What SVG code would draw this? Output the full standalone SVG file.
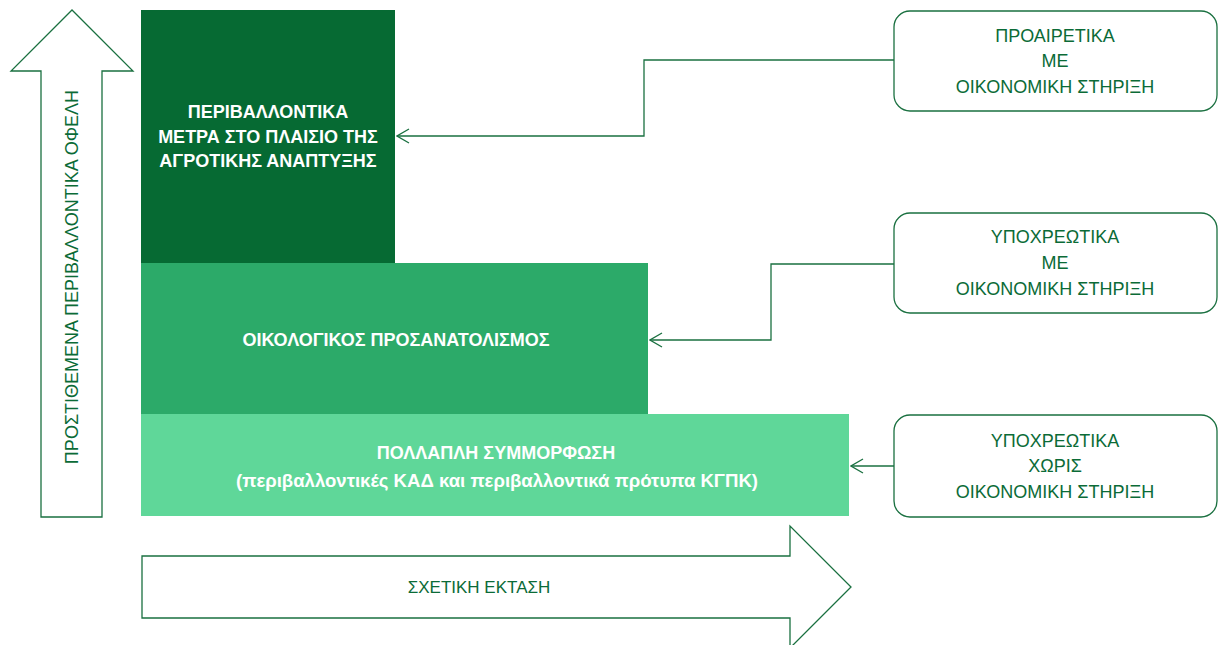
<svg xmlns="http://www.w3.org/2000/svg" width="1219" height="645" viewBox="0 0 1219 645">
<style>
.lbl{font-family:"Liberation Sans",Arial,sans-serif;font-size:18px;fill:#0b6b37;text-anchor:middle}
.sm{font-size:17px}
.wt{font-family:"Liberation Sans",Arial,sans-serif;font-size:18px;font-weight:bold;fill:#ffffff;text-anchor:middle}
.box{fill:#ffffff;stroke:#1a7040;stroke-width:1.3}
.outl{fill:#ffffff;stroke:#1a7040;stroke-width:1.3;stroke-linejoin:miter}
.con{fill:none;stroke:#1a7040;stroke-width:1.3}
</style>
<defs>
<marker id="ah" viewBox="0 0 14 16" refX="13" refY="8" markerWidth="14" markerHeight="16" markerUnits="userSpaceOnUse" orient="auto">
<path d="M1,1 L13,8 L1,15" fill="none" stroke="#1a7040" stroke-width="1.3"/>
</marker>
</defs>
<rect width="1219" height="645" fill="#ffffff"/>

<g id="axis-up">
<path class="outl" d="M41,517 L41,71 L11,71 L72,10 L133,71 L102,71 L102,517 Z"/>
<text class="lbl" transform="translate(78,277) rotate(-90)">ΠΡΟΣΤΙΘΕΜΕΝΑ ΠΕΡΙΒΑΛΛΟΝΤΙΚΑ ΟΦΕΛΗ</text>
</g>

<g id="axis-right">
<path class="outl" d="M142,556 L790,556 L790,526 L851,587 L790,648 L790,618 L142,618 Z"/>
<text class="lbl sm" x="479" y="593">ΣΧΕΤΙΚΗ ΕΚΤΑΣΗ</text>
</g>

<g id="level-agri">
<rect x="141" y="10" width="254" height="253" fill="#066a33"/>
<text class="wt" x="268" y="118">ΠΕΡΙΒΑΛΛΟΝΤΙΚΑ</text>
<text class="wt" x="268" y="143">ΜΕΤΡΑ ΣΤΟ ΠΛΑΙΣΙΟ ΤΗΣ</text>
<text class="wt" x="268" y="167">ΑΓΡΟΤΙΚΗΣ ΑΝΑΠΤΥΞΗΣ</text>
</g>

<g id="level-eco">
<rect x="141" y="263" width="507" height="151" fill="#2caa69"/>
<text class="wt" x="396" y="346">ΟΙΚΟΛΟΓΙΚΟΣ ΠΡΟΣΑΝΑΤΟΛΙΣΜΟΣ</text>
</g>

<g id="level-cross">
<rect x="141" y="414" width="708" height="102" fill="#5fd799"/>
<text class="wt" x="496" y="459">ΠΟΛΛΑΠΛΗ ΣΥΜΜΟΡΦΩΣΗ</text>
<text class="wt" x="497" y="487" textLength="522" lengthAdjust="spacingAndGlyphs">(περιβαλλοντικές ΚΑΔ και περιβαλλοντικά πρότυπα ΚΓΠΚ)</text>
</g>

<g id="box-optional">
<rect class="box" x="894" y="11" width="323" height="100" rx="16"/>
<text class="lbl" x="1055" y="42">ΠΡΟΑΙΡΕΤΙΚΑ</text>
<text class="lbl" x="1055" y="67">ΜΕ</text>
<text class="lbl" x="1055" y="93">ΟΙΚΟΝΟΜΙΚΗ ΣΤΗΡΙΞΗ</text>
</g>

<g id="box-mandatory-support">
<rect class="box" x="894" y="213" width="323" height="100" rx="16"/>
<text class="lbl" x="1055" y="243">ΥΠΟΧΡΕΩΤΙΚΑ</text>
<text class="lbl" x="1055" y="269">ΜΕ</text>
<text class="lbl" x="1055" y="295">ΟΙΚΟΝΟΜΙΚΗ ΣΤΗΡΙΞΗ</text>
</g>

<g id="box-mandatory-nosupport">
<rect class="box" x="894" y="415" width="323" height="102" rx="16"/>
<text class="lbl" x="1055" y="447">ΥΠΟΧΡΕΩΤΙΚΑ</text>
<text class="lbl" x="1055" y="472">ΧΩΡΙΣ</text>
<text class="lbl" x="1055" y="498">ΟΙΚΟΝΟΜΙΚΗ ΣΤΗΡΙΞΗ</text>
</g>

<g id="connectors">
<path class="con" d="M894,60 L644,60 L644,136 L397,136" marker-end="url(#ah)"/>
<path class="con" d="M894,264 L771,264 L771,340 L650,340" marker-end="url(#ah)"/>
<path class="con" d="M894,466 L851,466" marker-end="url(#ah)"/>
</g>
</svg>
